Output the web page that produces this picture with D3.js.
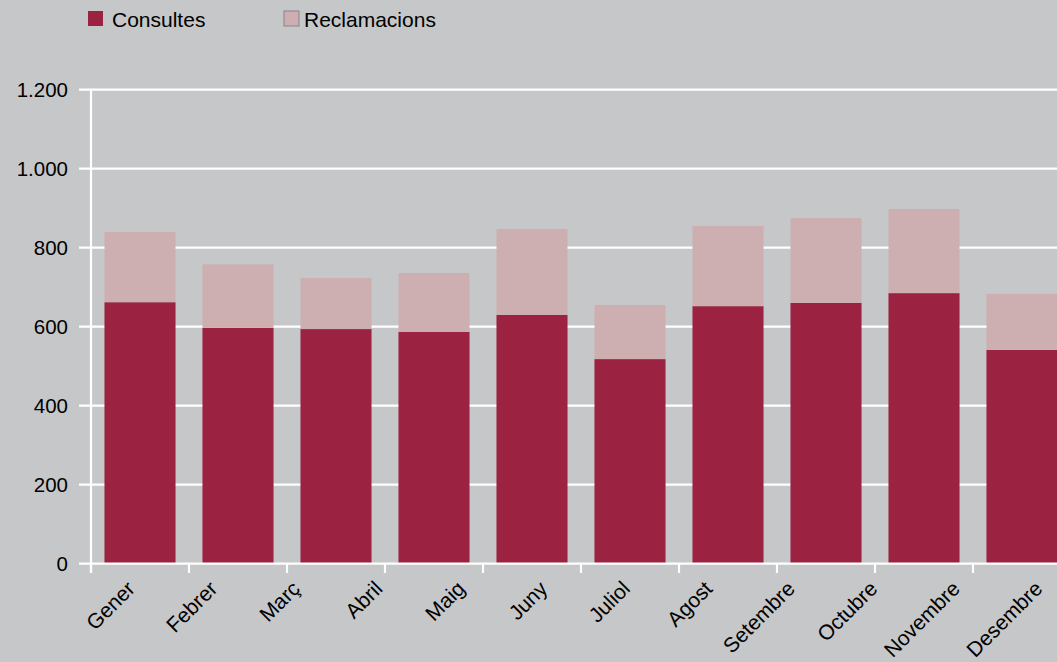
<!DOCTYPE html>
<html>
<head>
<meta charset="utf-8">
<script src="https://cdn.jsdelivr.net/npm/d3@7"></script>
<style>
  html, body { margin: 0; padding: 0; background: #c6c7c9; }
  svg { display: block; font-family: "Liberation Sans", Arial, Helvetica, sans-serif; }
</style>
</head>
<body>
<svg id="chart" width="1057" height="662"></svg>
<script>
// Monthly categories (axis labels)
const months = ["Gener", "Febrer", "Març", "Abril", "Maig", "Juny", "Juliol",
                "Agost", "Setembre", "Octubre", "Novembre", "Desembre"];
// Bar series, one value per bar in plotting order
const consultes     = [662, 597, 594, 587, 630, 518, 652, 660, 685, 541];
const reclamacions  = [178, 161, 129, 149, 217, 137, 203, 215, 213, 142];
const yTicks = [0, 200, 400, 600, 800, 1000, 1200];
const seriesNames = ["Consultes", "Reclamacions"];

const colors = { Consultes: "#9b2240", Reclamacions: "#cdafb1" };
const W = 1057, H = 662;
const x0 = 91, y0 = 563.7, yTop = 89.7;

const svg = d3.select("#chart");

const y = d3.scaleLinear().domain([0, 1200]).range([y0, yTop]);

// Bar positions: one band per bar slot, 98 px step
const barIndex = d3.range(months.length);
const xBar = d3.scaleBand().domain(barIndex)
  .range([x0, x0 + 98 * months.length])
  .paddingInner(0.275).paddingOuter(0.1375);

// Label positions across the plotted width
const xLab = d3.scaleBand().domain(months).range([x0, x0 + 82.5 * months.length]);

const fmt = v => d3.format(",")(v).replace(/,/g, ".");

// Gridlines with short stubs left of the axis
svg.append("g").selectAll("line").data(yTicks.filter(t => t > 0)).join("line")
  .attr("x1", 79).attr("x2", W)
  .attr("y1", d => y(d)).attr("y2", d => y(d))
  .attr("stroke", "#ffffff").attr("stroke-width", 2.2);

// Stacked bars
const stackData = consultes.map((c, i) => ({ i, Consultes: c, Reclamacions: reclamacions[i] }));
const stacked = d3.stack().keys(seriesNames)(stackData);
svg.append("g").selectAll("g").data(stacked).join("g")
  .attr("fill", d => colors[d.key])
  .selectAll("rect").data(d => d).join("rect")
  .attr("x", d => xBar(d.data.i))
  .attr("width", xBar.bandwidth())
  .attr("y", d => y(d[1]))
  .attr("height", d => y(d[0]) - y(d[1]));

// Y axis line and zero baseline
svg.append("line").attr("x1", x0).attr("x2", x0).attr("y1", yTop).attr("y2", 573)
  .attr("stroke", "#fff").attr("stroke-width", 2.2);
svg.append("line").attr("x1", 79).attr("x2", W).attr("y1", y0).attr("y2", y0)
  .attr("stroke", "#fff").attr("stroke-width", 2.2);

// X tick marks at band boundaries
svg.append("g").selectAll("line").data(barIndex).join("line")
  .attr("x1", d => xBar(d) - xBar.step() * 0.1375)
  .attr("x2", d => xBar(d) - xBar.step() * 0.1375)
  .attr("y1", y0).attr("y2", 573)
  .attr("stroke", "#fff").attr("stroke-width", 2.2);

// Y tick labels
svg.append("g").selectAll("text").data(yTicks).join("text")
  .attr("x", 68).attr("y", d => y(d)).attr("dy", "0.35em")
  .attr("text-anchor", "end").attr("font-size", 20.5).attr("fill", "#000")
  .text(fmt);

// Rotated month labels
svg.append("g").selectAll("text").data(months).join("text")
  .attr("transform", d => `translate(${xLab(d) + xLab.bandwidth() / 2 + 4},${590}) rotate(-45)`)
  .attr("text-anchor", "end").attr("font-size", 21).attr("fill", "#000")
  .text(d => d);

// Legend
const legend = svg.append("g");
const legendX = [88, 284];
seriesNames.forEach((name, i) => {
  legend.append("rect")
    .attr("x", legendX[i]).attr("y", 11).attr("width", 15).attr("height", 15)
    .attr("fill", colors[name])
    .attr("stroke", i === 1 ? "#8a8486" : "none").attr("stroke-width", 1);
  legend.append("text")
    .attr("x", legendX[i] + (i === 0 ? 24 : 20)).attr("y", 27)
    .attr("font-size", 21).attr("fill", "#000")
    .text(name);
});
</script>
</body>
</html>
